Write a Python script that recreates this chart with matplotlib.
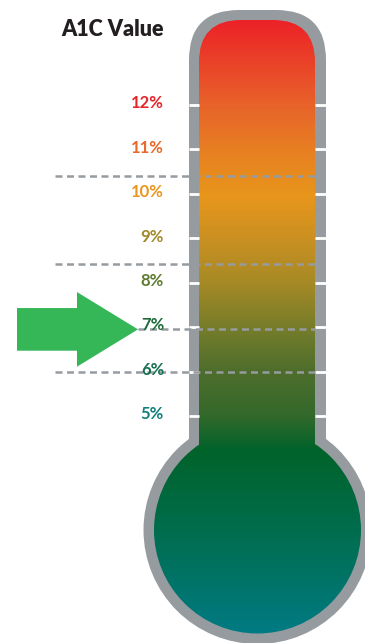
import numpy as np
import matplotlib
matplotlib.use('Agg')
import matplotlib.pyplot as plt
from matplotlib.patches import FancyBboxPatch, Circle, Polygon
from matplotlib.colors import to_rgb

# --- data ---
levels = [12, 11, 10, 9, 8, 7, 6, 5]
labels = ['12%', '11%', '10%', '9%', '8%', '7%', '6%', '5%']
label_colors = ['#e4262b', '#e8692a', '#e8961e', '#a08a2a',
                '#5e7b2f', '#1c6b38', '#17704f', '#11807d']
dash_levels = [10.4, 8.42, 6.95, 6.0]
target = 6.95   # where the arrow points

# gradient stops for the mercury (pixel row, colour)
grad_rows = [20, 105, 150, 195, 240, 280, 330, 370, 415, 450, 530, 635]
grad_cols = ['#ec2227', '#e8632a', '#e77f22', '#e8961b', '#c99022', '#a88a25',
             '#737c2a', '#4f6e2c', '#33692b', '#00632a', '#006d4d', '#007b85']

GRAY = '#969ba0'
FONT = 'Lato'
W, H = 365, 643
PX_TOP, PX_STEP = 105, 44.43   # pixel row of 12% and pixels per 1%

fig = plt.figure(figsize=(W / 100, H / 100), dpi=100)
bg = fig.add_axes([0, 0, 1, 1])
bg.set_xlim(0, W); bg.set_ylim(H, 0); bg.axis('off')

# thermometer body (pixel coords)
bg.add_patch(FancyBboxPatch((189, 10), 137, 490, boxstyle='round,pad=0,rounding_size=50',
                            fc=GRAY, ec='none'))
bg.add_patch(Circle((257.5, 530), 114, fc=GRAY, ec='none'))
tube = FancyBboxPatch((199, 20), 116, 480, boxstyle='round,pad=0,rounding_size=42',
                      fc='none', ec='none')
bulb = Circle((257.5, 530), 103.5, fc='none', ec='none')
bg.add_patch(tube); bg.add_patch(bulb)

rows = np.arange(H)
rgb = np.array([to_rgb(c) for c in grad_cols])
grad = np.stack([np.interp(rows, grad_rows, rgb[:, i]) for i in range(3)], axis=-1)
grad = grad[:, None, :]
for clip in (tube, bulb):
    im = bg.imshow(grad, extent=(0, W, H, 0), aspect='auto',
                   interpolation='bilinear', zorder=3)
    im.set_clip_path(clip)
bg.set_xlim(0, W); bg.set_ylim(H, 0)

bg.text(164, 30, 'A1C Value', ha='right', va='center', fontsize=15.5,
        fontweight='heavy', family=FONT, color='#231f20')

# value axis on top
ax = fig.add_axes([0, 0, 1, 1])
ax.patch.set_alpha(0)
ax.axis('off')
ax.set_xlim(0, W)
ax.set_ylim(12 - (H - PX_TOP) / PX_STEP, 12 + PX_TOP / PX_STEP)

for v in levels:
    ax.plot([189, 199], [v, v], color='white', lw=2, solid_capstyle='butt')
    ax.plot([315, 326], [v, v], color='white', lw=2, solid_capstyle='butt')

tip_x = 138
for v in dash_levels:
    x0 = tip_x if v == target else 55
    ax.plot([x0, 315], [v, v], color=GRAY, lw=1.8, linestyle=(0, (2.8, 1.8)))

for v, lab, col in zip(levels, labels, label_colors):
    ax.text(164, v + 0.04, lab, ha='right', va='center', fontsize=12,
            fontweight='bold', family=FONT, color=col)

# arrow pointing at the target level
arrow = Polygon([(17, target + 0.48), (77, target + 0.48), (77, target + 0.84),
                 (tip_x, target), (77, target - 0.84), (77, target - 0.48),
                 (17, target - 0.48)], closed=True, fc='#35b757', ec='none')
ax.add_patch(arrow)

fig.savefig('out.png', dpi=100)
